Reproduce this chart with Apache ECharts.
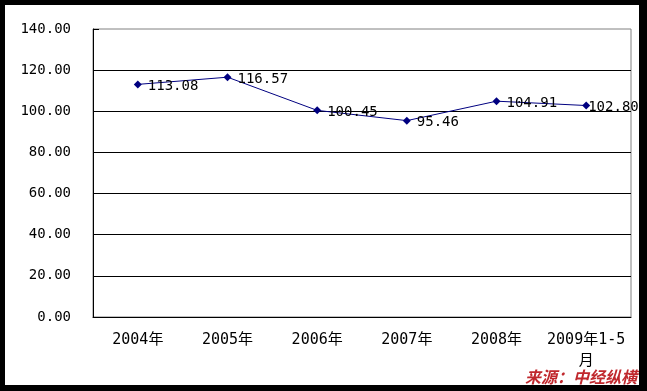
<!DOCTYPE html>
<html>
<head>
<meta charset="utf-8">
<script src="https://cdn.jsdelivr.net/npm/echarts@6/dist/echarts.min.js"></script>
<style>
html,body{margin:0;padding:0;background:#000;width:647px;height:391px;overflow:hidden;}
#bg{position:absolute;left:5px;top:5px;width:634px;height:380px;background:#fff;}
#chart{position:absolute;left:0;top:0;width:647px;height:391px;}
</style>
</head>
<body>
<div id="bg"></div>
<div id="chart"></div>
<script>
const categories = ['2004年', '2005年', '2006年', '2007年', '2008年', '2009年1-5\n月'];
const values = [113.08, 116.57, 100.45, 95.46, 104.91, 102.80];
const yTicks = { min: 0, max: 140, interval: 20 };
const sourceText = '来源：中经纵横';

const FONT = '"DejaVu Sans Mono", "Noto Sans CJK SC", monospace';
const lastIdx = values.length - 1;
const seriesData = values.map((v, i) => i === lastIdx ? { value: v, label: { offset: [-8, 2] } } : v);

const chart = echarts.init(document.getElementById('chart'), null, { renderer: 'canvas' });
chart.setOption({
  backgroundColor: 'transparent',
  animation: false,
  grid: { left: 93, right: 16, top: 29, bottom: 74, show: true, borderColor: '#808080', borderWidth: 1, backgroundColor: 'transparent' },
  xAxis: {
    type: 'category',
    data: categories,
    boundaryGap: true,
    axisLine: { lineStyle: { color: '#000', width: 1 } },
    axisTick: { inside: true, length: 5, lineStyle: { color: '#000' } },
    axisLabel: { color: '#000', fontFamily: FONT, fontSize: 15, margin: 13, lineHeight: 21, interval: 0 },
    splitLine: { show: false }
  },
  yAxis: {
    type: 'value',
    min: yTicks.min, max: yTicks.max, interval: yTicks.interval,
    axisLine: { show: true, lineStyle: { color: '#000', width: 1 } },
    axisTick: { show: true, inside: true, length: 6, lineStyle: { color: '#000' } },
    axisLabel: { color: '#000', fontFamily: FONT, fontSize: 14, margin: 22, padding: [4, 0, 0, 0], formatter: v => v.toFixed(2) },
    splitLine: { show: true, showMaxLine: false, lineStyle: { color: '#000', width: 1 } }
  },
  series: [{
    type: 'line',
    data: seriesData,
    symbol: 'diamond',
    symbolSize: 8,
    lineStyle: { color: '#000080', width: 1 },
    itemStyle: { color: '#000080' },
    label: {
      show: true, position: 'right', distance: 6, offset: [0, 2],
      color: '#000', fontFamily: FONT, fontSize: 14,
      formatter: p => Number(p.value).toFixed(2)
    }
  }],
  graphic: [{
    type: 'text', left: 525, top: 369, z: 100,
    style: { text: sourceText, fill: '#c0282d', font: 'italic bold 16px "Noto Sans CJK SC"' }
  }]
});
</script>
</body>
</html>
